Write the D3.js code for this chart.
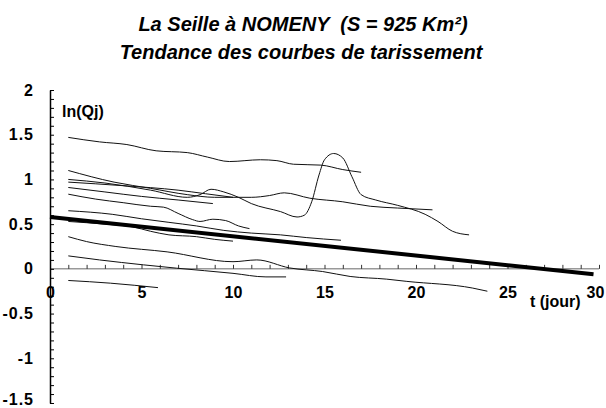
<!DOCTYPE html>
<html>
<head>
<meta charset="utf-8">
<script src="https://cdn.jsdelivr.net/npm/d3@7"></script>
<style>
  body { margin: 0; background: #fff; }
  text { font-family: Arial, "Liberation Sans", sans-serif; white-space: pre; }
</style>
</head>
<body>
<script>
// titles and axis labels
var titre1 = "La Seille à NOMENY  (S = 925 Km²)";
var titre2 = "Tendance des courbes de tarissement";
var labelY = "ln(Qj)";
var labelX = "t (jour)";

// tick labels
var xTicks = [0, 5, 10, 15, 20, 25, 30];
var yTicks = [2, 1.5, 1, 0.5, 0, -0.5, -1, -1.5];

// recession curves, [t (jour), ln(Qj)]
var courbeA = [[1,1.47],[2.7,1.42],[4.2,1.39],[5.8,1.32],[7.5,1.30],[8.6,1.25],[9.8,1.20],[11.5,1.22],[12.4,1.21],[13.3,1.17],[14.8,1.16],[16,1.11],[17,1.08]];
var courbeB = [[1,1.0],[3,0.96],[5.5,0.88],[7.5,0.80],[8.2,0.83],[8.8,0.89],[9.5,0.86],[10.3,0.80],[11,0.73],[12.6,0.64],[13.5,0.58],[13.9,0.60],[14.3,0.75],[14.7,1.05],[15.0,1.22],[15.5,1.29],[16,1.24],[16.5,1.03],[17,0.83],[17.8,0.77],[19,0.71],[20.5,0.61],[21.2,0.53],[22,0.42],[22.9,0.38]];
var courbeC = [[1,1.10],[3.5,0.97],[5.5,0.90],[7.5,0.83],[9,0.80],[11,0.80],[12,0.82],[12.8,0.85],[14.2,0.79],[16,0.75],[17.5,0.70],[19,0.68],[20.9,0.66]];
var courbeD = [[1,0.97],[4,0.93],[7,0.88],[8.5,0.84],[10,0.80]];
var courbeE = [[1,0.91],[3,0.86],[5,0.81],[7,0.77],[8.9,0.73]];
var courbeF = [[1,0.835],[2.5,0.78],[4,0.74],[5.5,0.70],[6.2,0.69],[7,0.62],[7.8,0.55],[8.2,0.53],[8.9,0.555],[9.6,0.54],[10.3,0.48],[10.9,0.45]];
var courbeG = [[1,0.65],[3.4,0.61],[5,0.56],[6.5,0.52],[8,0.48],[9.5,0.43],[11,0.40],[12.6,0.38],[14,0.35],[15.9,0.32]];
var courbeH = [[1,0.53],[3,0.50],[4.5,0.47],[5.5,0.42],[6.5,0.38],[8,0.36],[9,0.33],[10,0.31]];
var courbeI = [[1,0.36],[2,0.305],[3.6,0.25],[6.4,0.19],[10,0.08],[11.3,0.10],[13.1,0.01],[14.9,-0.03],[16.4,-0.085],[18.4,-0.115],[19.5,-0.14],[23.1,-0.215],[23.9,-0.25]];
var courbeJ = [[1,0.145],[2.7,0.10],[5.1,0.045],[6.9,0.008],[10,-0.05],[11.8,-0.09],[12.9,-0.09]];
var courbeK = [[1,-0.13],[3.3,-0.16],[5.9,-0.21]];
var courbes = [courbeA, courbeB, courbeC, courbeD, courbeE, courbeF, courbeG, courbeH, courbeI, courbeJ, courbeK];

// overall trend line
var tendance = [[0,0.58],[29.7,-0.06]];

var width = 606, height = 408;

var x = d3.scaleLinear().domain([0, 30]).range([50, 599]);
var y = d3.scaleLinear().domain([-1.5, 2]).range([403, 90]);

var svg = d3.select("body").append("svg")
    .attr("width", width)
    .attr("height", height);

// titles
svg.append("text")
    .attr("x", 303).attr("y", 31)
    .attr("text-anchor", "middle")
    .style("font-size", "20px").style("font-style", "italic").style("font-weight", "bold")
    .text(titre1);
svg.append("text")
    .attr("x", 301).attr("y", 59)
    .attr("text-anchor", "middle")
    .style("font-size", "20px").style("font-style", "italic").style("font-weight", "bold")
    .text(titre2);

// zero line (x axis) in grey
svg.append("line")
    .attr("x1", x(0)).attr("x2", x(30))
    .attr("y1", y(0)).attr("y2", y(0))
    .attr("stroke", "#999").attr("stroke-width", 1.5);

// x ticks every day, pointing up
var xAxis = svg.append("g")
    .attr("transform", "translate(0," + y(0) + ")")
    .call(d3.axisTop(x).tickValues(d3.range(1, 31)).tickSize(4).tickFormat(""));
xAxis.select(".domain").remove();
xAxis.selectAll("line").attr("stroke", "#333");

// x tick labels
svg.append("g")
    .attr("transform", "translate(0,284)")
    .call(d3.axisBottom(x).tickValues(xTicks).tickSize(0).tickFormat(d3.format("d")))
    .call(function(g) {
      g.select(".domain").remove();
      g.selectAll("text").style("font-size", "16px").style("font-weight", "bold")
        .attr("fill", "#000")
        .attr("dx", function(d) { return d === 30 ? -4 : 0; });
    });

// y axis with ticks every 0.1
var yAxis = svg.append("g")
    .attr("transform", "translate(" + x(0) + ",0)")
    .call(d3.axisRight(y).tickValues(d3.range(-15, 21).map(function(d) { return d / 10; }))
      .tickSize(4).tickFormat("").tickSizeOuter(0));
yAxis.select(".domain").attr("stroke-width", 1.5);

// y tick labels
svg.append("g")
    .attr("transform", "translate(34,0)")
    .call(d3.axisLeft(y).tickValues(yTicks).tickSize(0).tickFormat(function(d) { return d; }))
    .call(function(g) {
      g.select(".domain").remove();
      g.selectAll("text").attr("x", 0).style("font-size", "16px").style("font-weight", "bold")
        .style("letter-spacing", "1px")
        .attr("fill", "#000")
        .attr("dy", function(d) { return d === -1.5 ? "0.1em" : "0.32em"; });
    });

// axis titles
svg.append("text")
    .attr("x", 62).attr("y", 117)
    .style("font-size", "16px").style("font-weight", "bold")
    .text(labelY);
svg.append("text")
    .attr("x", 530).attr("y", 307)
    .style("font-size", "16px").style("font-weight", "bold")
    .text(labelX);

// recession curves
var line = d3.line()
    .x(function(d) { return x(d[0]); })
    .y(function(d) { return y(d[1]); })
    .curve(d3.curveMonotoneX);

svg.selectAll(".courbe")
    .data(courbes)
    .enter().append("path")
    .attr("class", "courbe")
    .attr("d", line)
    .attr("fill", "none")
    .attr("stroke", "#111")
    .attr("stroke-width", 1);

// trend line
svg.append("path")
    .datum(tendance)
    .attr("d", d3.line().x(function(d) { return x(d[0]); }).y(function(d) { return y(d[1]); }))
    .attr("fill", "none")
    .attr("stroke", "#000")
    .attr("stroke-width", 4);
</script>
</body>
</html>
